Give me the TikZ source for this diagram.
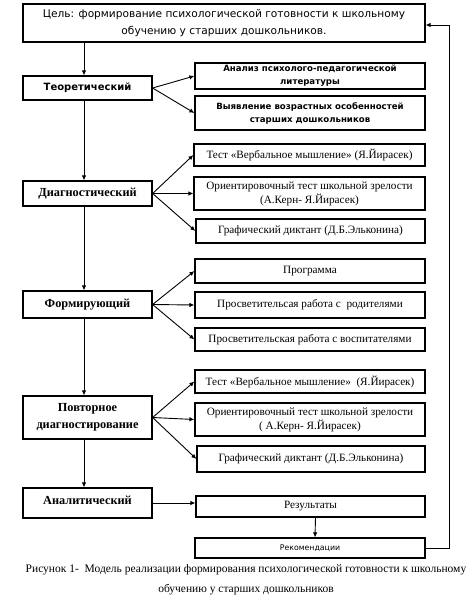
\documentclass[tikz,border=0pt]{standalone}
\usepackage{fontspec}
\setmainfont{Liberation Serif}
\newfontfamily\sansf{DejaVu Sans}
\usetikzlibrary{arrows.meta}
\begin{document}
\begin{tikzpicture}[x=1pt,y=-1pt,
  box/.style={draw, line width=1.2pt, inner sep=1pt, align=center},
  arr/.style={-{Latex[length=5pt,width=4.5pt]}, line width=0.9pt},
  sr/.style={font=\fontsize{11.2}{14}\selectfont},
  lb/.style={font=\bfseries\fontsize{12.3}{15}\selectfont},
  sb/.style={font=\sansf\bfseries\fontsize{8.6}{13}\selectfont}]
\useasboundingbox (0,0) rectangle (476,603);
\node[box, minimum width=402pt, minimum height=38pt, font=\sansf\fontsize{10.6}{17}\selectfont] (goal) at (224,23)
  {Цель: формирование психологической готовности к школьному\\ обучению у старших дошкольников.};
% Theoretical
\node[box, minimum width=129pt, minimum height=24pt, font=\sansf\bfseries\fontsize{10}{12}\selectfont] (teor) at (87.5,88) {Теоретический};
\node[box, sb, minimum width=230pt, minimum height=26pt] (a1) at (310,76) {Анализ психолого-педагогической\\ литературы};
\node[box, sb, minimum width=230pt, minimum height=34pt] (a2) at (310,113) {Выявление возрастных особенностей\\ старших дошкольников};
% Diagnostic
\node[box, lb, minimum width=129pt, minimum height=25pt] (diag) at (87.5,193.5) {Диагностический};
\node[box, sr, minimum width=231pt, minimum height=22pt] (d1) at (309.5,155) {Тест «Вербальное мышление» (Я.Йирасек)};
\node[box, sr, minimum width=231pt, minimum height=33pt] (d2) at (309.5,193.5) {Ориентировочный тест школьной зрелости\\ (А.Керн- Я.Йирасек)};
\node[box, sr, minimum width=229pt, minimum height=24pt] (d3) at (310.5,231) {Графический диктант (Д.Б.Эльконина)};
% Forming
\node[box, lb, minimum width=129pt, minimum height=27pt] (form) at (87.5,304.5) {Формирующий};
\node[box, sr, minimum width=230pt, minimum height=24pt] (f1) at (310,271) {Программа};
\node[box, sr, minimum width=230pt, minimum height=26pt] (f2) at (310,305) {Просветительсая работа с~~родителями};
\node[box, sr, minimum width=230pt, minimum height=23pt] (f3) at (310,339.5) {Просветительская работа с воспитателями};
% Repeated
\node[box, lb, minimum width=129pt, minimum height=43pt, font=\bfseries\fontsize{12.3}{17}\selectfont] (pov) at (87.5,417.5) {Повторное\\ диагностирование};
\node[box, sr, minimum width=230pt, minimum height=23pt] (p1) at (310,381.5) {Тест «Вербальное мышление»~~(Я.Йирасек)};
\node[box, sr, minimum width=230pt, minimum height=33pt] (p2) at (310,419.5) {Ориентировочный тест школьной зрелости\\ ( А.Керн- Я.Йирасек)};
\node[box, sr, minimum width=228pt, minimum height=26pt] (p3) at (311,459) {Графический диктант (Д.Б.Эльконина)};
% Analytic
\node[box, lb, minimum width=129pt, minimum height=30pt, text depth=6pt] (anal) at (87.5,503) {Аналитический};
\node[box, sr, minimum width=229pt, minimum height=21pt] (res) at (310.5,506.5) {Результаты};
\node[box, minimum width=230pt, minimum height=20pt, font=\sansf\fontsize{7.8}{9}\selectfont] (rec) at (310,548) {Рекомендации};
% caption
\node[align=center, font=\fontsize{11.5}{20}\selectfont] (cap) at (246,580)
  {Рисунок 1-~~Модель реализации формирования психологической готовности к школьному\\ обучению у старших дошкольников};
% spine
\draw[arr] ([xshift=-3.5pt]teor.north |- goal.south) -- ([xshift=-3.5pt]teor.north);
\draw[arr] ([xshift=-3.5pt]teor.south) -- ([xshift=-3.5pt]diag.north);
\draw[arr] ([xshift=-3.5pt]diag.south) -- ([xshift=-3.5pt]form.north);
\draw[arr] ([xshift=-3.5pt]form.south) -- ([xshift=-3.5pt]pov.north);
\draw[arr] ([xshift=-3.5pt]pov.south) -- ([xshift=-3.5pt]anal.north);
% fans
\draw[arr] (teor.east) -- (a1.west);
\draw[arr] (teor.east) -- (a2.west);
\draw[arr] (diag.east) -- (d1.west);
\draw[arr] (diag.east) -- (d2.west);
\draw[arr] (diag.east) -- (d3.west);
\draw[arr] (form.east) -- (f1.west);
\draw[arr] (form.east) -- (f2.west);
\draw[arr] (form.east) -- (f3.west);
\draw[arr] (pov.east) -- (p1.west);
\draw[arr] (pov.east) -- (p2.west);
\draw[arr] (pov.east) -- (p3.west);
\draw[arr] (anal.east) -- (anal.east -| res.west);
\draw[arr] ([xshift=5pt]res.south) -- ([xshift=5pt]rec.north);
% feedback
\coordinate (rt) at (449,0);
\draw[arr] (rec.east) -- (rec.east -| rt) -- ([yshift=-2pt]goal.east -| rt) -- ([yshift=-2pt]goal.east);
\end{tikzpicture}
\end{document}
